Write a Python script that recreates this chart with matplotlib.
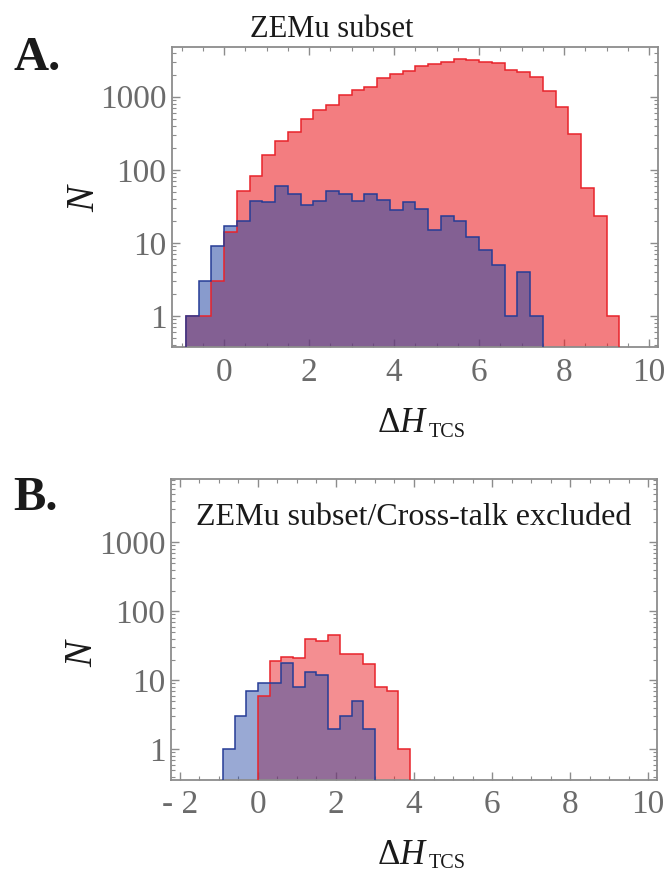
import matplotlib
matplotlib.use('Agg')
import matplotlib.pyplot as plt
import numpy as np
from matplotlib.ticker import FixedLocator, LogLocator, NullFormatter, MultipleLocator

# Histogram data: bins of width 0.3
bin_width = 0.3

# Panel A: ZEMu subset
a_red_start = -0.9
a_red_counts = [1, 1, 3, 14, 52, 81, 160, 250, 326, 500, 658, 770, 1045, 1247,
                1358, 1785, 2064, 2247, 2655, 2826, 2985, 3312, 3148, 3013, 2918,
                2340, 2157, 1878, 1197, 716, 312, 57, 23, 1]
a_blue_start = -0.9
a_blue_counts = [1, 3, 9, 17, 20, 38, 36, 60, 46, 33, 38, 51, 46, 37, 46, 39,
                 28, 36, 29, 15, 23, 20, 12, 8, 5, 1, 4, 1]

# Panel B: ZEMu subset / cross-talk excluded
b_red_start = 0.0
b_red_counts = [6, 19, 22, 21, 40, 37, 45, 24, 24, 17, 8, 7, 1]
b_blue_start = -0.9
b_blue_counts = [1, 3, 7, 9, 9, 18, 8, 13, 12, 2, 3, 5, 2]

y_ticks = [1, 10, 100, 1000]
y_tick_labels = ['1', '10', '100', '1000']
a_x_ticks = [0, 2, 4, 6, 8, 10]
a_x_labels = ['0', '2', '4', '6', '8', '10']
b_x_ticks = [-2, 0, 2, 4, 6, 8, 10]
b_x_labels = ['- 2', '0', '2', '4', '6', '8', '10']

serif = 'Liberation Serif'
plt.rcParams['font.family'] = serif
plt.rcParams['mathtext.fontset'] = 'custom'
plt.rcParams['mathtext.rm'] = serif
plt.rcParams['mathtext.it'] = serif + ':italic'

red_fill = (0.92, 0.12, 0.14)
red_line = '#e8232b'
blue_fill = (0.153, 0.286, 0.643)
blue_line = '#263c96'
frame_col = '0.55'
label_col = '0.42'


def edges_for(start, counts):
    return np.round(start + bin_width * np.arange(len(counts) + 1), 2)


def draw_hist(ax, start, counts, fill, alpha):
    e = edges_for(start, counts)
    ax.stairs(counts, e, baseline=1e-3, fill=True, color=fill, alpha=alpha,
              lw=0, zorder=2)


def draw_outline(ax, start, counts, line, z):
    e = edges_for(start, counts)
    ax.stairs(counts, e, baseline=1e-3, fill=False, color=line, lw=1.1, zorder=z)


def style_axes(ax, xlim, ylim, xt, xl):
    ax.set_yscale('log')
    ax.set_xlim(*xlim)
    ax.set_ylim(*ylim)
    ax.yaxis.set_major_locator(FixedLocator(y_ticks))
    ax.set_yticklabels(y_tick_labels)
    ax.yaxis.set_minor_locator(LogLocator(base=10, subs=np.arange(2, 10)))
    ax.yaxis.set_minor_formatter(NullFormatter())
    ax.xaxis.set_major_locator(FixedLocator(xt))
    ax.set_xticklabels(xl)
    ax.xaxis.set_minor_locator(MultipleLocator(0.5))
    for s in ax.spines.values():
        s.set_color(frame_col)
        s.set_linewidth(1.3)
    ax.tick_params(which='both', direction='in', top=True, right=True,
                   color=frame_col, labelcolor=label_col, labelsize=24)
    ax.tick_params(which='major', length=6, width=1.0)
    ax.tick_params(which='minor', length=3, width=0.8)
    ax.tick_params(axis='y', pad=4)
    ax.tick_params(axis='x', pad=7)


W, H = 667, 874
fig = plt.figure(figsize=(W / 100, H / 100), dpi=100)

# ---- Panel A
axA = fig.add_axes([172 / W, 1 - 347.3 / H, (657.5 - 172) / W, (347.3 - 46.7) / H])
draw_hist(axA, a_red_start, a_red_counts, red_fill, 0.58)
draw_hist(axA, a_blue_start, a_blue_counts, blue_fill, 0.55)
draw_outline(axA, a_red_start, a_red_counts, red_line, 3)
draw_outline(axA, a_blue_start, a_blue_counts, blue_line, 4)
style_axes(axA, (-1.224, 10.2), (0.373, 4830), a_x_ticks, a_x_labels)

# ---- Panel B
axB = fig.add_axes([171 / W, 1 - 780 / H, (657 - 171) / W, (780 - 479) / H])
draw_hist(axB, b_red_start, b_red_counts, red_fill, 0.5)
draw_hist(axB, b_blue_start, b_blue_counts, blue_fill, 0.47)
draw_outline(axB, b_red_start, b_red_counts, red_line, 3)
draw_outline(axB, b_blue_start, b_blue_counts, blue_line, 4)
style_axes(axB, (-2.23, 10.23), (0.359, 8270), b_x_ticks, b_x_labels)
axB.text(0.5, 0.847, 'ZEMu subset/Cross-talk excluded', transform=axB.transAxes,
         ha='center', va='baseline', fontsize=23, color='0.1')

# Titles and panel letters
fig.text(250 / W, 1 - 36.7 / H, 'ZEMu subset', ha='left', va='baseline',
         fontsize=22, color='0.1')
fig.text(13 / W, 1 - 70 / H, 'A.', ha='left', va='baseline', fontsize=35,
         fontweight='bold', color='0.1')
fig.text(13 / W, 1 - 510 / H, 'B.', ha='left', va='baseline', fontsize=35,
         fontweight='bold', color='0.1')

# y labels
fig.text(85 / W, 1 - 197 / H, '$N$', rotation=90, ha='center', va='center',
         fontsize=28, color='0.1')
fig.text(83 / W, 1 - 652 / H, '$N$', rotation=90, ha='center', va='center',
         fontsize=28, color='0.1')

# x labels: Delta H with a small TCS subscript
for base_y, sub_y in [(432, 437), (864, 868)]:
    fig.text(428 / W, 1 - base_y / H, r'$\Delta H$', ha='right', va='baseline',
             fontsize=25, color='0.1')
    fig.text(429 / W, 1 - sub_y / H, 'TCS', ha='left', va='baseline',
             fontsize=14.5, color='0.1')

fig.savefig('out.png', dpi=100)
